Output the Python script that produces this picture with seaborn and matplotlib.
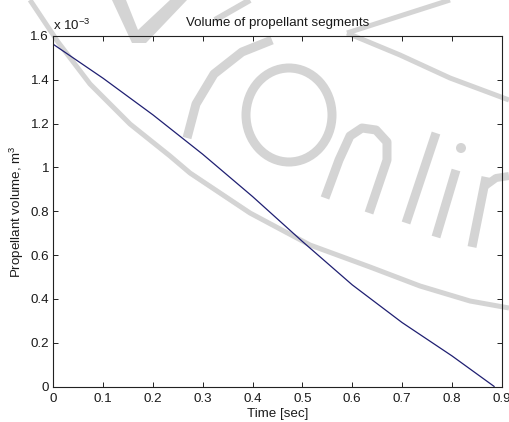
import matplotlib
matplotlib.use("Agg")
import matplotlib.pyplot as plt
import numpy as np
import pandas as pd
import seaborn as sns
from matplotlib.patches import Ellipse, Circle, Polygon
from matplotlib.ticker import FuncFormatter

# Propellant volume over the burn
time_s = [0.0, 0.1, 0.2, 0.3, 0.4, 0.5, 0.6, 0.7, 0.8, 0.885]
volume_m3 = [1.562e-3, 1.407e-3, 1.240e-3, 1.060e-3, 0.867e-3,
             0.662e-3, 0.464e-3, 0.292e-3, 0.140e-3, 0.0]

x_ticks = [0.0, 0.1, 0.2, 0.3, 0.4, 0.5, 0.6, 0.7, 0.8, 0.9]
y_ticks = [0.0, 0.2e-3, 0.4e-3, 0.6e-3, 0.8e-3, 1.0e-3, 1.2e-3, 1.4e-3, 1.6e-3]

title_text = "Volume of propellant segments"
x_label = "Time [sec]"
y_label = "Propellant volume, m$^3$"
scale_text = "x 10$^{-3}$"

sns.set_style("white")
plt.rcParams["font.family"] = ["Liberation Sans", "DejaVu Sans"]
plt.rcParams["mathtext.default"] = "regular"

W, H = 509, 422
fig = plt.figure(figsize=(W / 100, H / 100), dpi=100)
fig.patch.set_facecolor("white")

# faint logo layer behind the plot, in pixel units
bg = fig.add_axes([0, 0, 1, 1], zorder=0)
bg.set_xlim(0, W)
bg.set_ylim(H, 0)
bg.axis("off")
wm = "#d4d4d4"

def stroke(pts, w):
    p = np.array(pts, dtype=float)
    bg.plot(p[:, 0], p[:, 1], color=wm, lw=w * 0.72,
            solid_capstyle="butt", solid_joinstyle="round")

stroke([(30, 0), (58, 42), (90, 84), (130, 124), (170, 156), (190, 173),
        (250, 213), (310, 245), (370, 267), (420, 286), (470, 301), (509, 308)], 5)
bg.add_patch(Polygon([(112, 0), (126, 0), (138, 30), (170, 0), (187, 0),
                      (146, 43), (132, 43)],
                     closed=True, color=wm, lw=0))
stroke([(250, 0), (215, 20)], 6)
stroke([(272, 40), (242, 52), (214, 74), (196, 104), (187, 138)], 9)
bg.add_patch(Ellipse((289, 115), 86, 94, fill=False, ec=wm, lw=9 * 0.72))
stroke([(325, 198), (339, 160), (350, 136), (362, 128), (376, 130),
        (387, 142), (387, 160), (369, 213)], 9)
stroke([(436, 133), (406, 223)], 9)
bg.add_patch(Circle((461, 148), 5, color=wm, lw=0))
stroke([(456, 170), (436, 237)], 9)
stroke([(486, 177), (472, 247)], 9)
stroke([(485, 186), (496, 178), (509, 176)], 8)
stroke([(347, 33), (400, 55), (450, 78), (509, 100)], 5)
stroke([(347, 33), (400, 16), (450, 0)], 5)

# main axes
left, right, top, bottom = 53.3, 501.7, 36.0, 386.5
ax = fig.add_axes([left / W, 1 - bottom / H, (right - left) / W, (bottom - top) / H],
                  zorder=1)
ax.patch.set_alpha(0)

df = pd.DataFrame({"time": time_s, "volume": volume_m3})
sns.lineplot(data=df, x="time", y="volume", ax=ax, color="#1f1f72",
             lw=0.9, sort=False, estimator=None)

ax.set_xlim(0, 0.9)
ax.set_ylim(0, 1.6e-3)
ax.set_xticks(x_ticks)
ax.set_yticks(y_ticks)
ax.xaxis.set_major_formatter(FuncFormatter(lambda v, p: f"{round(v, 6):g}"))
ax.yaxis.set_major_formatter(FuncFormatter(lambda v, p: f"{round(v * 1e3, 6):g}"))

txt = "#1a1a1a"
fs = 9.6
ax.tick_params(direction="in", length=3.6, width=0.7, colors="#222222",
               labelcolor=txt, labelsize=fs, top=True, right=True,
               bottom=True, left=True)
ax.tick_params(axis="x", pad=5.0)
ax.tick_params(axis="y", pad=3.0)
for s in ax.spines.values():
    s.set_visible(True)
    s.set_color("#222222")
    s.set_linewidth(0.8)

ax.set_title(title_text, fontsize=fs, color=txt, pad=7)
ax.set_xlabel(x_label, fontsize=fs, color=txt, labelpad=2)
ax.set_ylabel(y_label, fontsize=fs, color=txt, labelpad=3)
ax.annotate(scale_text, xy=(0, 1), xycoords="axes fraction",
            xytext=(0, 4.5), textcoords="offset points",
            ha="left", va="baseline", fontsize=fs, color=txt)

fig.savefig("out.png", dpi=100)
